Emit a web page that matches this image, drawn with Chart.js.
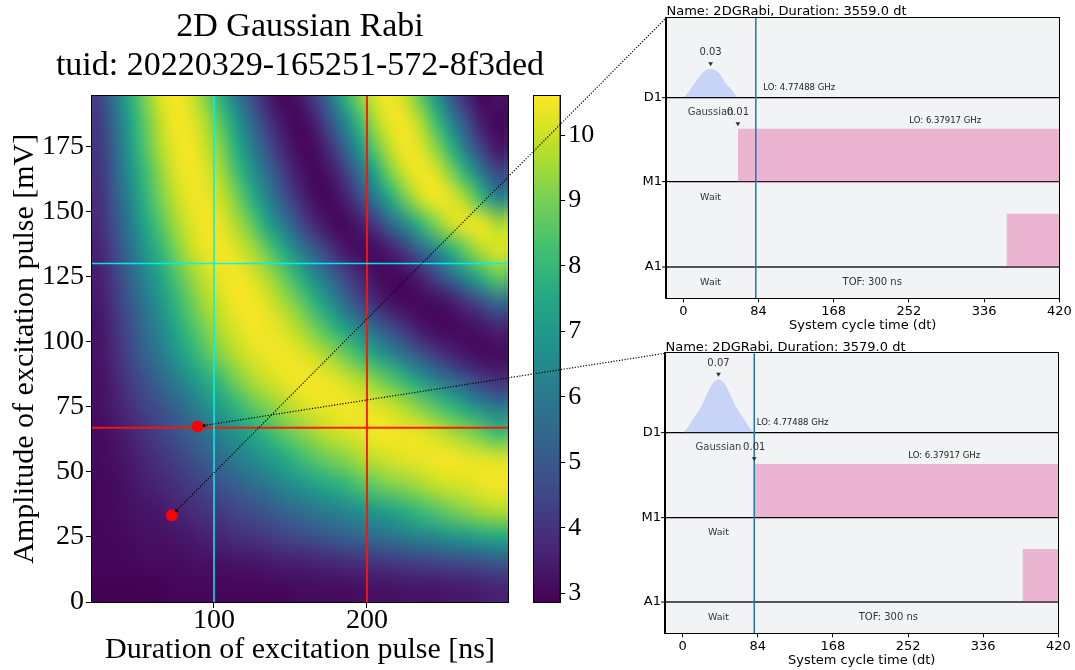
<!DOCTYPE html>
<html>
<head>
<meta charset="utf-8">
<script src="https://cdn.jsdelivr.net/npm/chart.js@4/dist/chart.umd.min.js"></script>
<style>
  html, body { margin: 0; padding: 0; background: #fff; }
  #wrap { position: relative; width: 1075px; height: 670px; overflow: hidden; }
  canvas { position: absolute; }
</style>
</head>
<body>
<div id="wrap">
  <canvas id="heat" width="580" height="670" style="left:0;top:0"></canvas>
  <canvas id="cbar" width="110" height="670" style="left:520px;top:0"></canvas>
  <canvas id="sched1" width="435" height="335" style="left:640px;top:0"></canvas>
  <canvas id="sched2" width="435" height="335" style="left:640px;top:335px"></canvas>
  <canvas id="links" width="1075" height="670" style="left:0;top:0;pointer-events:none"></canvas>
</div>
<script>
// ---------------- 2D Gaussian Rabi scan ----------------
// cell centres of the sweep
const durations = [25, 35, 45, 55, 65, 75, 85, 95, 105, 115, 125, 135, 145, 155, 165, 175, 185, 195, 205, 215, 225, 235, 245, 255, 265, 275, 285]; // ns
const amplitudes = [5, 15, 25, 35, 45, 55, 65, 75, 85, 95, 105, 115, 125, 135, 145, 155, 165, 175, 185, 195]; // mV

// measured signal, one row per amplitude (lowest amplitude first), one value per duration
const signal = [
  [2.9, 2.9, 2.9, 2.9, 2.9, 3.0, 3.0, 3.0, 3.0, 3.0, 3.0, 3.0, 3.0, 3.1, 3.1, 3.1, 3.1, 3.2, 3.2, 3.2, 3.3, 3.3, 3.3, 3.4, 3.4, 3.5, 3.6],
  [3.0, 3.0, 3.0, 3.1, 3.1, 3.1, 3.2, 3.2, 3.2, 3.3, 3.3, 3.4, 3.5, 3.5, 3.6, 3.7, 3.8, 3.9, 4.0, 4.1, 4.2, 4.3, 4.4, 4.5, 4.6, 4.7, 4.9],
  [3.0, 3.0, 3.1, 3.2, 3.2, 3.3, 3.4, 3.6, 3.7, 3.9, 4.0, 4.2, 4.4, 4.6, 4.8, 5.0, 5.2, 5.4, 5.6, 5.8, 6.1, 6.3, 6.5, 6.8, 7.0, 7.3, 7.5],
  [3.0, 3.1, 3.2, 3.3, 3.4, 3.6, 3.8, 4.0, 4.2, 4.5, 4.7, 5.0, 5.3, 5.6, 5.9, 6.1, 6.4, 6.7, 7.0, 7.3, 7.7, 8.1, 8.5, 8.9, 9.2, 9.5, 9.7],
  [3.0, 3.1, 3.3, 3.5, 3.7, 3.9, 4.2, 4.5, 4.9, 5.2, 5.6, 5.9, 6.4, 6.8, 7.2, 7.6, 7.9, 8.4, 8.7, 9.1, 9.3, 9.6, 9.9, 10.1, 10.2, 10.4, 10.5],
  [3.1, 3.2, 3.4, 3.7, 4.0, 4.3, 4.7, 5.1, 5.6, 6.1, 6.5, 7.0, 7.5, 8.0, 8.5, 8.9, 9.2, 9.6, 9.9, 10.1, 10.3, 10.4, 10.5, 10.5, 10.4, 10.3, 10.2],
  [3.1, 3.3, 3.6, 4.0, 4.4, 4.8, 5.3, 5.8, 6.3, 6.9, 7.5, 8.0, 8.6, 9.1, 9.5, 9.9, 10.1, 10.3, 10.5, 10.5, 10.4, 10.3, 10.0, 9.6, 9.2, 8.7, 8.1],
  [3.2, 3.5, 3.9, 4.4, 4.8, 5.3, 5.9, 6.6, 7.2, 7.9, 8.6, 9.1, 9.6, 10.0, 10.3, 10.4, 10.5, 10.4, 10.3, 10.0, 9.6, 9.1, 8.5, 7.9, 7.2, 6.5, 5.9],
  [3.2, 3.6, 4.2, 4.8, 5.4, 6.1, 6.8, 7.6, 8.2, 9.0, 9.6, 10.0, 10.3, 10.5, 10.5, 10.4, 10.1, 9.7, 9.2, 8.6, 7.9, 7.1, 6.3, 5.6, 4.9, 4.3, 3.9],
  [3.3, 3.8, 4.5, 5.3, 6.0, 6.9, 7.7, 8.5, 9.2, 9.8, 10.2, 10.4, 10.5, 10.3, 10.0, 9.5, 8.9, 8.1, 7.3, 6.5, 5.7, 4.9, 4.2, 3.7, 3.3, 3.1, 3.1],
  [3.3, 3.9, 4.7, 5.6, 6.5, 7.4, 8.3, 9.1, 9.8, 10.2, 10.5, 10.4, 10.2, 9.7, 9.0, 8.2, 7.3, 6.4, 5.5, 4.7, 4.0, 3.4, 3.1, 3.0, 3.1, 3.3, 3.6],
  [3.4, 4.1, 5.0, 5.9, 6.9, 7.9, 8.8, 9.6, 10.1, 10.5, 10.5, 10.2, 9.6, 8.9, 7.9, 6.8, 5.6, 4.5, 3.8, 3.3, 3.05, 3.0, 3.1, 3.4, 4.0, 4.7, 5.5],
  [3.5, 4.3, 5.3, 6.4, 7.4, 8.4, 9.3, 10.0, 10.4, 10.5, 10.2, 9.6, 8.8, 7.8, 6.6, 5.6, 4.6, 3.8, 3.2, 3.0, 3.1, 3.6, 4.5, 5.5, 6.6, 7.8, 8.7],
  [3.6, 4.5, 5.6, 6.9, 7.9, 9.0, 9.9, 10.4, 10.5, 10.2, 9.6, 8.7, 7.6, 6.3, 5.2, 4.2, 3.4, 3.1, 3.1, 3.5, 4.2, 5.3, 6.4, 7.7, 8.8, 9.7, 10.2],
  [3.8, 4.8, 6.0, 7.4, 8.5, 9.5, 10.2, 10.5, 10.3, 9.6, 8.7, 7.3, 6.1, 4.8, 3.8, 3.2, 3.0, 3.4, 4.1, 5.3, 6.5, 7.9, 9.1, 10.0, 10.4, 10.4, 9.7],
  [3.9, 5.0, 6.4, 7.8, 9.0, 9.9, 10.4, 10.4, 9.9, 9.0, 7.7, 6.3, 5.0, 3.9, 3.2, 3.0, 3.5, 4.5, 5.9, 7.5, 8.9, 10.0, 10.5, 10.3, 9.5, 8.0, 6.4],
  [4.0, 5.2, 6.7, 8.1, 9.3, 10.2, 10.5, 10.2, 9.5, 8.2, 6.9, 5.5, 4.3, 3.4, 3.0, 3.3, 4.2, 5.7, 7.3, 9.0, 10.1, 10.5, 10.2, 9.1, 7.7, 5.9, 4.5],
  [4.1, 5.4, 7.0, 8.5, 9.7, 10.4, 10.5, 9.9, 9.0, 7.6, 6.1, 4.8, 3.7, 3.1, 3.1, 3.9, 5.3, 7.0, 8.7, 9.9, 10.5, 10.2, 9.2, 7.7, 5.8, 4.3, 3.3],
  [4.2, 5.6, 7.3, 8.7, 9.9, 10.5, 10.3, 9.6, 8.4, 6.9, 5.4, 4.1, 3.3, 3.0, 3.5, 4.8, 6.4, 8.1, 9.6, 10.4, 10.4, 9.6, 8.1, 6.3, 4.7, 3.4, 3.0],
  [4.4, 5.9, 7.6, 9.1, 10.2, 10.5, 10.1, 9.0, 7.6, 5.9, 4.6, 3.5, 3.0, 3.3, 4.3, 5.8, 7.7, 9.2, 10.2, 10.5, 9.9, 8.6, 6.8, 5.0, 3.7, 3.0, 3.3]
];

const heatTicksX = [100, 200];
const heatTicksY = [0, 25, 50, 75, 100, 125, 150, 175];
const colorTicks = [3, 4, 5, 6, 7, 8, 9, 10];
const colorMin = 2.869, colorMax = 10.605;

// cursors and the two selected points of the sweep
const cursorCyan = { duration: 100, amplitude: 130 };
const cursorRed = { duration: 200, amplitude: 66.9 };
const selectedDurations = [72.4, 89.3];   // ns
const selectedAmplitudes = [33.3, 67.4];  // mV

// ---------------- pulse schedules of the two selected points ----------------
const channels = ['D1', 'M1', 'A1'];
const cycleTicks = [0, 84, 168, 252, 336, 420];
const scheduleDurations = [3559.0, 3579.0];
const driveTimesA = [0, 3, 7.5, 12.6, 18.2, 24, 30.5, 37, 42.5, 47.3, 54, 58.5, 61];
const driveAmpsA = [0, 0.002, 0.0078, 0.0147, 0.0222, 0.028, 0.03, 0.028, 0.0222, 0.0147, 0.0078, 0.002, 0];
const driveTimesB = [0, 4, 11.8, 21.1, 27.8, 33.5, 40, 46.5, 52.2, 59, 68.3, 76, 80];
const driveAmpsB = [0, 0.004, 0.0182, 0.035, 0.0525, 0.065, 0.07, 0.065, 0.0525, 0.035, 0.0182, 0.004, 0];
const readoutStarts = [61, 80];
const readoutAmps = [0.01, 0.01];
const timeOfFlight = 300;
const markerTimes = [81, 80];
const driveLO = 'LO: 4.77488 GHz';
const measureLO = 'LO: 6.37917 GHz';

// ---------------- colour map ----------------
const VIRIDIS = ['#440154', '#482475', '#414487', '#355f8d', '#2a788e', '#21918c', '#22a884', '#44bf70', '#7ad151', '#bddf26', '#fde725'];
const hexRgb = h => [parseInt(h.slice(1, 3), 16), parseInt(h.slice(3, 5), 16), parseInt(h.slice(5, 7), 16)];
const VIRIDIS_RGB = VIRIDIS.map(hexRgb);
function viridis(t) {
  t = Math.min(1, Math.max(0, t));
  const n = VIRIDIS_RGB.length - 1;
  const k = Math.min(n - 1, Math.floor(t * n));
  const f = t * n - k;
  const a = VIRIDIS_RGB[k], b = VIRIDIS_RGB[k + 1];
  return 'rgb(' + [0, 1, 2].map(i => Math.round(a[i] + (b[i] - a[i]) * f)).join(',') + ')';
}
const colorOf = v => viridis((v - colorMin) / (colorMax - colorMin));

const SERIF = 'Liberation Serif';
const SANS = 'DejaVu Sans';

// black frame around a chart area
const framePlugin = {
  id: 'frame',
  afterDatasetsDraw(chart) {
    const { ctx, chartArea: a } = chart;
    const l = Math.round(a.left), t = Math.round(a.top), r = Math.round(a.right), b = Math.round(a.bottom);
    ctx.save();
    ctx.strokeStyle = '#000';
    ctx.lineWidth = 1;
    ctx.strokeRect(l - 0.5, t - 0.5, r - l + 1, b - t + 1);
    ctx.restore();
  }
};

// heat map: one texel per cell, stretched onto the cell rectangles given by the scales
const heatmapPlugin = {
  id: 'heatmap',
  beforeDatasetsDraw(chart) {
    const { ctx, chartArea: a, scales: { x, y } } = chart;
    const nx = durations.length, ny = amplitudes.length;
    const img = document.createElement('canvas');
    img.width = nx; img.height = ny;
    const ic = img.getContext('2d');
    signal.forEach((row, j) => row.forEach((v, i) => {
      ic.fillStyle = colorOf(v);
      ic.fillRect(i, ny - 1 - j, 1, 1);
    }));
    const hx = (durations[1] - durations[0]) / 2;
    const hy = (amplitudes[1] - amplitudes[0]) / 2;
    const x0 = x.getPixelForValue(durations[0] - hx);
    const x1 = x.getPixelForValue(durations[nx - 1] + hx);
    const yT = y.getPixelForValue(amplitudes[ny - 1] + hy);
    const yB = y.getPixelForValue(amplitudes[0] - hy);
    ctx.save();
    ctx.beginPath();
    ctx.rect(a.left, a.top, a.width, a.height);
    ctx.clip();
    ctx.imageSmoothingEnabled = true;
    ctx.imageSmoothingQuality = 'high';
    ctx.drawImage(img, 0, 0, nx, ny, x0, yT, x1 - x0, yB - yT);
    if (x1 < a.right) ctx.drawImage(img, nx - 1, 0, 1, ny, x1 - 1, yT, a.right - x1 + 2, yB - yT);
    if (x0 > a.left) ctx.drawImage(img, 0, 0, 1, ny, a.left - 1, yT, x0 - a.left + 2, yB - yT);
    ctx.restore();
  }
};

const heatTitlePlugin = {
  id: 'heatTitle',
  afterDraw(chart) {
    const { ctx, chartArea: a } = chart;
    const cx = (a.left + a.right) / 2;
    ctx.save();
    ctx.fillStyle = '#000';
    ctx.font = '34px "' + SERIF + '"';
    ctx.textAlign = 'center';
    ctx.textBaseline = 'alphabetic';
    ctx.fillText('2D Gaussian Rabi', cx, 36.4);
    ctx.fillText('tuid: 20220329-165251-572-8f3ded', cx, 74.6);
    ctx.restore();
  }
};

const heatChart = new Chart(document.getElementById('heat'), {
  type: 'scatter',
  data: {
    datasets: [
      { data: [{ x: cursorCyan.duration, y: -10 }, { x: cursorCyan.duration, y: 250 }], showLine: true, borderColor: 'rgba(0,240,240,0.95)', borderWidth: 1.6, pointRadius: 0, order: 2 },
      { data: [{ x: 0, y: cursorCyan.amplitude }, { x: 320, y: cursorCyan.amplitude }], showLine: true, borderColor: 'rgba(0,240,240,0.95)', borderWidth: 1.6, pointRadius: 0, order: 2 },
      { data: [{ x: cursorRed.duration, y: -10 }, { x: cursorRed.duration, y: 250 }], showLine: true, borderColor: 'rgba(255,20,0,0.95)', borderWidth: 2, pointRadius: 0, order: 2 },
      { data: [{ x: 0, y: cursorRed.amplitude }, { x: 320, y: cursorRed.amplitude }], showLine: true, borderColor: 'rgba(255,20,0,0.95)', borderWidth: 2, pointRadius: 0, order: 2 },
      { data: selectedDurations.map((d, i) => ({ x: d, y: selectedAmplitudes[i] })), pointRadius: 6, pointBackgroundColor: '#ff0000', pointBorderWidth: 0, order: 0 }
    ]
  },
  options: {
    responsive: false, animation: false, devicePixelRatio: 1, events: [],
    layout: { padding: { left: 0, top: 95.5, right: 72, bottom: 0 } },
    plugins: { legend: { display: false }, tooltip: { enabled: false } },
    scales: {
      x: {
        type: 'linear', min: 20.26, max: 292.2,
        afterBuildTicks: s => { s.ticks = heatTicksX.map(v => ({ value: v })); },
        afterFit: s => { s.height = 68; },
        grid: { drawOnChartArea: false, tickLength: 6, tickColor: '#000', tickWidth: 1 },
        border: { display: true, color: '#000', width: 1 },
        ticks: { font: { family: SERIF, size: 28 }, color: '#000', padding: -3.8, maxRotation: 0 },
        title: { display: true, text: 'Duration of excitation pulse [ns]', color: '#000', font: { family: SERIF, size: 30 }, padding: { top: 0, bottom: 2 } }
      },
      y: {
        type: 'linear', min: 0, max: 194.5,
        afterBuildTicks: s => { s.ticks = heatTicksY.map(v => ({ value: v })); },
        afterFit: s => { s.width = 92; },
        grid: { drawOnChartArea: false, tickLength: 6, tickColor: '#000', tickWidth: 1 },
        border: { display: true, color: '#000', width: 1 },
        ticks: { font: { family: SERIF, size: 28 }, color: '#000', padding: 2 },
        title: { display: true, text: 'Amplitude of excitation pulse [mV]', color: '#000', font: { family: SERIF, size: 30 }, padding: { top: 7, bottom: 0 } }
      }
    }
  },
  plugins: [heatmapPlugin, framePlugin, heatTitlePlugin]
});

// colour bar filled row by row through its own value scale
const colorbarPlugin = {
  id: 'colorbar',
  beforeDatasetsDraw(chart) {
    const { ctx, chartArea: a, scales: { y } } = chart;
    ctx.save();
    for (let p = Math.floor(a.top); p < Math.ceil(a.bottom); p++) {
      ctx.fillStyle = colorOf(y.getValueForPixel(p + 0.5));
      ctx.fillRect(a.left, p, a.width, 1);
    }
    ctx.restore();
  }
};

const cbarChart = new Chart(document.getElementById('cbar'), {
  type: 'scatter',
  data: { datasets: [] },
  options: {
    responsive: false, animation: false, devicePixelRatio: 1, events: [],
    layout: { padding: { left: 13.8, right: 20.4, top: 95.5, bottom: 68.3 } },
    plugins: { legend: { display: false }, tooltip: { enabled: false } },
    scales: {
      x: { display: false, min: 0, max: 1 },
      y: {
        position: 'right', min: colorMin, max: colorMax,
        afterBuildTicks: s => { s.ticks = colorTicks.map(v => ({ value: v })); },
        afterFit: s => { s.width = 50; },
        grid: { drawOnChartArea: false, tickLength: 5.6, tickColor: '#000', tickWidth: 1 },
        border: { display: true, color: '#000', width: 1 },
        ticks: { font: { family: SERIF, size: 26 }, color: '#000', padding: 3 }
      }
    }
  },
  plugins: [colorbarPlugin, framePlugin]
});

// ---------------- schedule panels ----------------
function drawDownMarker(ctx, x, tipY) {
  ctx.beginPath();
  ctx.moveTo(x - 2.4, tipY - 4);
  ctx.lineTo(x + 2.4, tipY - 4);
  ctx.lineTo(x, tipY);
  ctx.closePath();
  ctx.fill();
}

function makeSchedule(id, info) {
  const d1 = 0, m1 = -1, a1 = -2;
  const mTop = m1 + info.readoutAmp * info.readoutScale;
  const aTop = a1 + info.acquireHeight;
  const acquireStart = info.readoutStart + timeOfFlight;

  const annotations = {
    id: 'schedAnnotations',
    beforeDraw(chart) {
      const { ctx, chartArea: a } = chart;
      ctx.save();
      ctx.fillStyle = '#f2f3f5';
      ctx.fillRect(a.left, a.top, a.width, a.height);
      ctx.restore();
    },
    afterDatasetsDraw(chart) {
      const { ctx, chartArea: a, scales: { x, y } } = chart;
      const px = v => x.getPixelForValue(v), py = v => y.getPixelForValue(v);
      ctx.save();
      // title
      ctx.fillStyle = '#000';
      ctx.font = '13px "' + SANS + '"';
      ctx.textAlign = 'left';
      ctx.textBaseline = 'alphabetic';
      ctx.fillText(info.title, a.left + 0.5, a.top - 2.6);

      // drive pulse peak value
      const peak = Math.max(...info.amps);
      const k = info.amps.indexOf(peak);
      const pX = px(info.times[k]), pY = py(d1 + peak * info.driveScale);
      ctx.fillStyle = '#333';
      drawDownMarker(ctx, pX, pY - 2.7);
      ctx.font = '10px "' + SANS + '"';
      ctx.textAlign = 'center';
      ctx.textBaseline = 'middle';
      ctx.fillText(peak.toFixed(2), pX, pY - 16.5);

      // pulse name under the drive channel
      const pulseCentre = (info.times[0] + info.times[info.times.length - 1]) / 2;
      ctx.fillStyle = '#444';
      ctx.fillText('Gaussian', px(pulseCentre), py(d1) + 15.4);

      // readout amplitude
      ctx.fillStyle = '#333';
      ctx.fillText(info.readoutAmp.toFixed(2), px(info.readoutStart), py(d1) + 15.4);
      drawDownMarker(ctx, px(info.readoutStart), py(mTop) - 2.7);

      // LO frequencies
      ctx.fillStyle = '#222';
      ctx.font = '8.5px "' + SANS + '"';
      ctx.textAlign = 'left';
      ctx.fillText(driveLO, px(info.driveLOAt), py(d1) - info.driveLOLift);
      ctx.fillText(measureLO, px(info.measureLOAt), py(m1) - info.measureLOLift);

      // waits and time of flight
      ctx.fillStyle = '#333';
      ctx.textAlign = 'center';
      ctx.font = '9.5px "' + SANS + '"';
      ctx.fillText('Wait', px(pulseCentre), py(m1) + 15);
      ctx.fillText('Wait', px(pulseCentre), py(a1) + 15.3);
      ctx.font = '10px "' + SANS + '"';
      ctx.fillText('TOF: ' + timeOfFlight + ' ns', px((info.readoutStart + acquireStart) / 2), py(a1) + 15.3);
      ctx.restore();
    }
  };

  return new Chart(document.getElementById(id), {
    type: 'scatter',
    data: {
      datasets: [
        { data: info.times.map((t, i) => ({ x: t, y: d1 + info.amps[i] * info.driveScale })), showLine: true, fill: { value: d1 }, backgroundColor: 'rgba(100,143,255,0.3)', borderColor: 'rgba(0,0,0,0)', borderWidth: 0, pointRadius: 0, cubicInterpolationMode: 'monotone', order: 3 },
        { data: [{ x: info.readoutStart, y: mTop }, { x: 480, y: mTop }], showLine: true, fill: { value: m1 }, backgroundColor: 'rgba(220,38,127,0.3)', borderColor: 'rgba(0,0,0,0)', borderWidth: 0, pointRadius: 0, order: 3 },
        { data: [{ x: acquireStart, y: aTop }, { x: 480, y: aTop }], showLine: true, fill: { value: a1 }, backgroundColor: 'rgba(220,38,127,0.3)', borderColor: 'rgba(0,0,0,0)', borderWidth: 0, pointRadius: 0, order: 3 },
        { data: [{ x: info.markerTime, y: -3 }, { x: info.markerTime, y: 1.5 }], showLine: true, borderColor: '#1f77b4', borderWidth: 1.5, pointRadius: 0, order: 1 }
      ]
    },
    options: {
      responsive: false, animation: false, devicePixelRatio: 1, events: [],
      layout: { padding: { left: 0, top: info.padTop, right: info.padRight, bottom: 0 } },
      plugins: { legend: { display: false }, tooltip: { enabled: false } },
      scales: {
        x: {
          type: 'linear', min: info.xMin, max: 420,
          afterBuildTicks: s => { s.ticks = cycleTicks.map(v => ({ value: v })); },
          afterFit: s => { s.height = 36.7; },
          grid: { drawOnChartArea: false, tickLength: 4, tickColor: '#000', tickWidth: 1 },
          border: { display: true, color: '#000', width: 1 },
          ticks: { font: { family: SANS, size: 13 }, color: '#000', padding: 1.6, maxRotation: 0 },
          title: { display: true, text: 'System cycle time (dt)', color: '#000', font: { family: SANS, size: 13 }, padding: { top: 0, bottom: 1.2 } }
        },
        y: {
          type: 'linear', min: -2.368, max: 0.932,
          afterBuildTicks: s => { s.ticks = [a1, m1, d1].map(v => ({ value: v })); },
          afterFit: s => { s.width = info.axisWidth; },
          grid: {
            drawOnChartArea: true, drawTicks: true, tickLength: 4, tickColor: '#000', tickWidth: 1,
            color: c => (c.tick && c.tick.value === a1 ? '#555' : '#000'),
            lineWidth: c => (c.tick && c.tick.value === a1 ? 2 : 1.3)
          },
          border: { display: true, color: '#000', width: 1 },
          ticks: { font: { family: SANS, size: 13 }, color: '#000', padding: 0, callback: v => channels[-v] }
        }
      }
    },
    plugins: [annotations, framePlugin]
  });
}

const schedTop = makeSchedule('sched1', {
  title: 'Name: 2DGRabi, Duration: ' + scheduleDurations[0].toFixed(1) + ' dt',
  times: driveTimesA, amps: driveAmpsA, driveScale: 11.1,
  readoutStart: readoutStarts[0], readoutAmp: readoutAmps[0], readoutScale: 62.7, acquireHeight: 0.627,
  markerTime: markerTimes[0],
  driveLOAt: 89.4, driveLOLift: 9.3, measureLOAt: 252.5, measureLOLift: 61.3,
  xMin: -19.3, padTop: 18, padRight: 15.7, axisWidth: 26
});
const schedBottom = makeSchedule('sched2', {
  title: 'Name: 2DGRabi, Duration: ' + scheduleDurations[1].toFixed(1) + ' dt',
  times: driveTimesB, amps: driveAmpsB, driveScale: 8.91,
  readoutStart: readoutStarts[1], readoutAmp: readoutAmps[1], readoutScale: 62.7, acquireHeight: 0.627,
  markerTime: markerTimes[1],
  driveLOAt: 82.8, driveLOLift: 10, measureLOAt: 252.3, measureLOLift: 61.3,
  xMin: -19.8, padTop: 18.3, padRight: 16.7, axisWidth: 25
});

// ---------------- dotted links from the selected points to their schedules ----------------
function drawLinks() {
  const ctx = document.getElementById('links').getContext('2d');
  const hx = heatChart.scales.x, hy = heatChart.scales.y;
  const panels = [
    { chart: schedTop, ox: 640, oy: 0 },
    { chart: schedBottom, ox: 640, oy: 335 }
  ];
  panels.forEach((p, i) => {
    const sx = hx.getPixelForValue(selectedDurations[i]);
    const sy = hy.getPixelForValue(selectedAmplitudes[i]);
    const tx = p.ox + p.chart.chartArea.left, ty = p.oy + p.chart.chartArea.top;
    const len = Math.hypot(tx - sx, ty - sy);
    const bx = sx + (tx - sx) / len * 6.5, by = sy + (ty - sy) / len * 6.5;
    ctx.save();
    ctx.strokeStyle = '#000';
    ctx.lineWidth = 1.2;
    ctx.setLineDash([1.2, 1.6]);
    ctx.beginPath();
    ctx.moveTo(bx, by);
    ctx.lineTo(tx, ty);
    ctx.stroke();
    ctx.setLineDash([]);
    ctx.fillStyle = '#000';
    ctx.beginPath();
    ctx.arc(bx, by, 1.7, 0, Math.PI * 2);
    ctx.fill();
    ctx.restore();
  });
}
drawLinks();
</script>
</body>
</html>
